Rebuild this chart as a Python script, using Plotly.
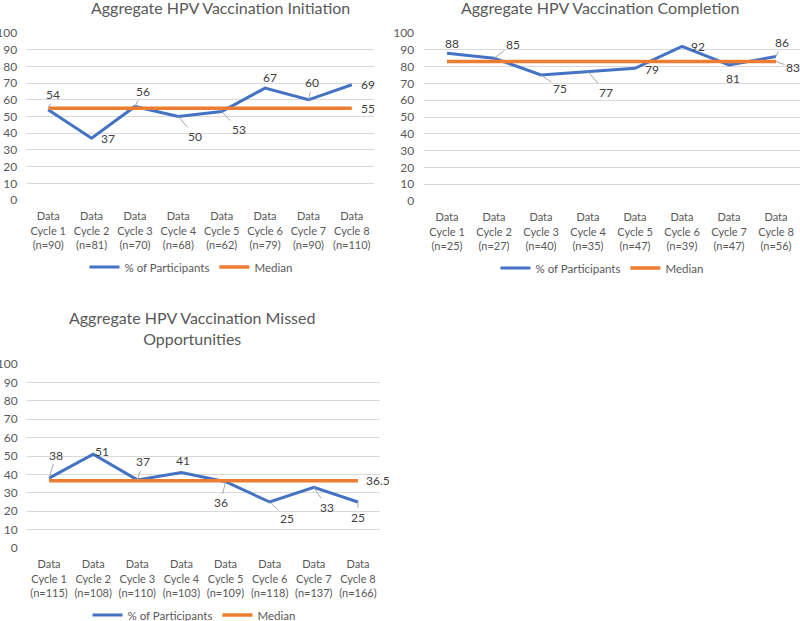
import plotly.graph_objects as go

# ---------------- data ----------------
titles = ["Aggregate HPV Vaccination Initiation",
          "Aggregate HPV Vaccination Completion",
          "Aggregate HPV Vaccination Missed<br>Opportunities"]
cycles = [f"Data Cycle {i}" for i in range(1, 9)]
n_initiation = [90, 81, 70, 68, 62, 79, 90, 110]
n_completion = [25, 27, 40, 35, 47, 39, 47, 56]
n_missed = [115, 108, 110, 103, 109, 118, 137, 166]
pct_initiation = [54, 37, 56, 50, 53, 67, 60, 69]
pct_completion = [88, 85, 75, 77, 79, 92, 81, 86]
pct_missed = [38, 51, 37, 41, 36, 25, 33, 25]
median_initiation = 55
median_completion = 83
median_missed = 36.5
y_ticks = list(range(0, 101, 10))

# ---------------- styling ----------------
FONT = "Lato, 'Open Sans', sans-serif"
BLUE = "#4472C4"
ORANGE = "#ED7D31"
GREY_TXT = "#595959"
LABEL_TXT = "#404040"
GRID = "#D9D9D9"
LEADER = "#A6A6A6"
W, H = 800, 621

# label offsets (px): (dx, dy, leader line) for 8 points + median
offsets = [
    [(5, -15, True), (16, 0, False), (8, -15, True), (17, 20, True), (17, 18, True),
     (5, -11, False), (4, -17, True), (16, 0, False), (16, 0, False)],
    [(5, -10, False), (19, -14, True), (19, 13, True), (18, 21, True), (17, 1, False),
     (16, 0, False), (4, 14, False), (6, -14, True), (17, 6, True)],
    [(7, -23, True), (9, -3, False), (6, -18, True), (2, -12, False), (-5, 21, True),
     (17, 16, True), (13, 20, True), (0, 15, True), (20, 0, False)],
]

# plot areas in pixels: (left, right, top, bottom)
areas = [(26.5, 373.5, 33, 200), (423.5, 799.5, 33, 201), (27, 380, 364, 548)]
title_pos = [(220, 8), (600, 8), (192, 328)]
legend_pos = [(191, 267), (602, 268), (194, 615)]

series = [
    (pct_initiation, median_initiation, n_initiation),
    (pct_completion, median_completion, n_completion),
    (pct_missed, median_missed, n_missed),
]

fig = go.Figure()
annotations = []

for k, (vals, med, ns) in enumerate(series):
    sx = "" if k == 0 else str(k + 1)
    xa, ya = "x" + sx, "y" + sx
    leg = "legend" + sx
    cats = [f"Data<br>{c.replace('Data ', '')}<br>(n={n})" for c, n in zip(cycles, ns)]
    fig.add_trace(go.Scatter(x=cats, y=vals, mode="lines", name="% of Participants",
                             line=dict(color=BLUE, width=3), xaxis=xa, yaxis=ya,
                             legend=leg, hoverinfo="skip"))
    fig.add_trace(go.Scatter(x=cats, y=[med] * len(cats), mode="lines", name="Median",
                             line=dict(color=ORANGE, width=3.5), xaxis=xa, yaxis=ya,
                             legend=leg, hoverinfo="skip"))
    l, r, t, b = areas[k]
    fig.layout["xaxis" + sx] = dict(domain=[l / W, r / W], anchor=ya, type="category",
                                    range=[-0.5, 7.5], showgrid=False, showline=False,
                                    zeroline=False, ticks="outside", ticklen=6,
                                    tickcolor="rgba(0,0,0,0)", fixedrange=True,
                                    automargin=False,
                                    tickfont=dict(family=FONT, size=11, color=GREY_TXT))
    fig.layout["yaxis" + sx] = dict(domain=[1 - b / H, 1 - t / H], anchor=xa,
                                    range=[0, 100], tickvals=y_ticks, showgrid=True,
                                    gridcolor=GRID, gridwidth=1, zeroline=False,
                                    showline=False, ticks="outside", ticklen=6,
                                    tickcolor="rgba(0,0,0,0)", fixedrange=True,
                                    automargin=False,
                                    tickfont=dict(family=FONT, size=12, color=GREY_TXT))
    # data labels
    pts = list(zip(cats, vals)) + [(cats[-1], med)]
    for (cx, cy), (dx, dy, lead) in zip(pts, offsets[k]):
        annotations.append(dict(x=cx, y=cy, xref=xa, yref=ya, text=str(cy),
                                showarrow=True, ax=dx, ay=dy, arrowhead=0, arrowwidth=1,
                                standoff=0,
                                arrowcolor=LEADER if lead else "rgba(0,0,0,0)",
                                font=dict(family=FONT, size=12, color=LABEL_TXT)))
    # title
    tx, ty = title_pos[k]
    annotations.append(dict(x=tx / W, y=1 - ty / H, xref="paper", yref="paper",
                            text=titles[k], showarrow=False, xanchor="center",
                            yanchor="middle",
                            font=dict(family=FONT, size=16, color=GREY_TXT)))
    # legend
    lx, ly = legend_pos[k]
    fig.layout[leg] = dict(x=lx / W, y=1 - ly / H, xanchor="center", yanchor="middle",
                           orientation="h", bgcolor="rgba(0,0,0,0)",
                           font=dict(family=FONT, size=11.5, color=GREY_TXT),
                           tracegroupgap=0)

fig.update_layout(width=W, height=H,
                  margin=dict(l=0, r=0, t=0, b=0, autoexpand=False),
                  paper_bgcolor="white", plot_bgcolor="white",
                  annotations=annotations, showlegend=True)

fig.write_html("out.html", config={"displayModeBar": False},
               post_script="document.body.style.margin='0';document.body.style.overflow='hidden';")
